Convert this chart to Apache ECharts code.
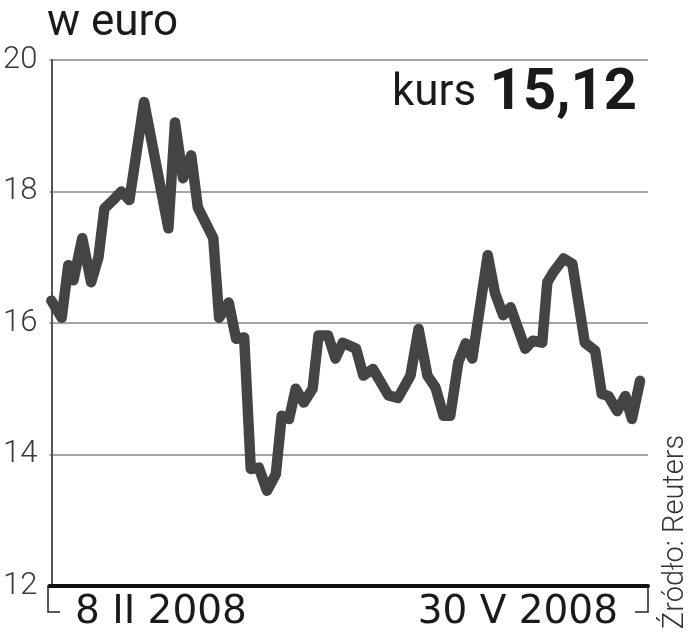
<!DOCTYPE html>
<html>
<head>
<meta charset="utf-8">
<script src="https://cdn.jsdelivr.net/npm/echarts@6/dist/echarts.min.js"></script>
<style>
html,body{margin:0;padding:0;background:#fff;}
#chart{width:693px;height:640px;}
</style>
</head>
<body>
<div id="chart"></div>
<script>
// Trading-day position (from 8 II 2008 to 30 V 2008) of each turning point
const dayIndex = [0, 1.4, 2.3, 3.0, 4.2, 5.4, 6.4, 7.2, 8.4, 9.5, 10.6, 12.6, 15.9, 16.8, 17.9, 19.0, 19.9, 22.0, 22.8, 24.1, 25.1, 26.2, 27.1, 28.2, 29.3, 30.5, 31.3, 32.3, 33.2, 34.3, 35.5, 36.3, 37.6, 38.6, 39.6, 41.4, 42.4, 43.7, 45.8, 47.1, 48.8, 49.9, 51.1, 52.2, 53.3, 54.2, 55.3, 56.3, 57.2, 59.3, 60.3, 61.4, 62.4, 64.4, 65.4, 66.7, 67.4, 68.2, 69.6, 70.8, 72.5, 73.9, 74.8, 75.7, 76.9, 78.0, 78.9, 80.0];
// Share price in euro
const price = [16.34, 16.08, 16.88, 16.65, 17.29, 16.62, 17.0, 17.74, 17.87, 18.0, 17.87, 19.36, 17.44, 19.05, 18.2, 18.55, 17.76, 17.29, 16.08, 16.31, 15.76, 15.78, 13.78, 13.8, 13.45, 13.7, 14.59, 14.54, 15.0, 14.79, 15.0, 15.81, 15.81, 15.46, 15.7, 15.61, 15.2, 15.3, 14.9, 14.86, 15.2, 15.91, 15.2, 15.02, 14.59, 14.59, 15.4, 15.69, 15.46, 17.03, 16.45, 16.12, 16.24, 15.61, 15.73, 15.7, 16.62, 16.77, 16.98, 16.9, 15.7, 15.58, 14.92, 14.89, 14.66, 14.89, 14.54, 15.12];
const yTicks = [12, 14, 16, 18, 20];
const startLabel = '8 II 2008';
const endLabel = '30 V 2008';
const unitLabel = 'w euro';
const lastLabel = 'kurs';
const lastValue = '15,12';
const sourceLabel = 'Źródło: Reuters';

const chart = echarts.init(document.getElementById('chart'), null, {renderer: 'canvas'});
const lineData = dayIndex.map((d, i) => [d, price[i]]);

chart.setOption({
  animation: false,
  backgroundColor: '#ffffff',
  grid: {left: 48, right: 45, top: 60, bottom: 54},
  xAxis: {
    type: 'value',
    min: -0.27,
    max: 81.08,
    axisLine: {show: true, onZero: false, lineStyle: {color: '#111', width: 4}},
    axisTick: {show: false},
    axisLabel: {show: false},
    splitLine: {show: false}
  },
  yAxis: {
    type: 'value',
    min: yTicks[0],
    max: yTicks[yTicks.length - 1],
    interval: 2,
    axisLine: {show: true, lineStyle: {color: '#555', width: 2}},
    axisTick: {show: false},
    axisLabel: {
      margin: 12,
      fontSize: 31,
      fontFamily: 'Roboto',
      fontWeight: 300,
      color: '#3a3a3a'
    },
    splitLine: {show: true, lineStyle: {color: '#a5a5a5', width: 2}}
  },
  series: [{
    type: 'line',
    data: lineData,
    symbol: 'none',
    lineStyle: {color: '#444444', width: 10.5, join: 'round', cap: 'round'},
    z: 3
  }],
  graphic: [
    {type: 'polyline', shape: {points: [[48, 586], [48, 612], [60, 612]]}, style: {stroke: '#222', lineWidth: 1.5, fill: null}},
    {type: 'polyline', shape: {points: [[648, 586], [648, 612], [635, 612]]}, style: {stroke: '#222', lineWidth: 1.5, fill: null}},
    {type: 'text', left: 75, top: 593, style: {text: startLabel, font: '39px "DejaVu Sans"', fill: '#1a1a1a'}},
    {type: 'text', right: 75, top: 593, style: {text: endLabel, font: '39px "DejaVu Sans"', fill: '#1a1a1a'}},
    {type: 'text', left: 47, top: 2, style: {text: unitLabel, font: '44px Roboto', fill: '#1a1a1a'}},
    {type: 'text', left: 392, top: 72, style: {text: lastLabel, font: '44px Roboto', fill: '#1a1a1a'}},
    {type: 'text', right: 56, top: 65, style: {text: lastValue, font: 'bold 58px Roboto', fill: '#1a1a1a'}},
    {type: 'text', x: 676, y: 532, rotation: Math.PI / 2, style: {text: sourceLabel, font: '300 29px Roboto', fill: '#333', textAlign: 'center', textVerticalAlign: 'middle'}}
  ]
});
</script>
</body>
</html>
